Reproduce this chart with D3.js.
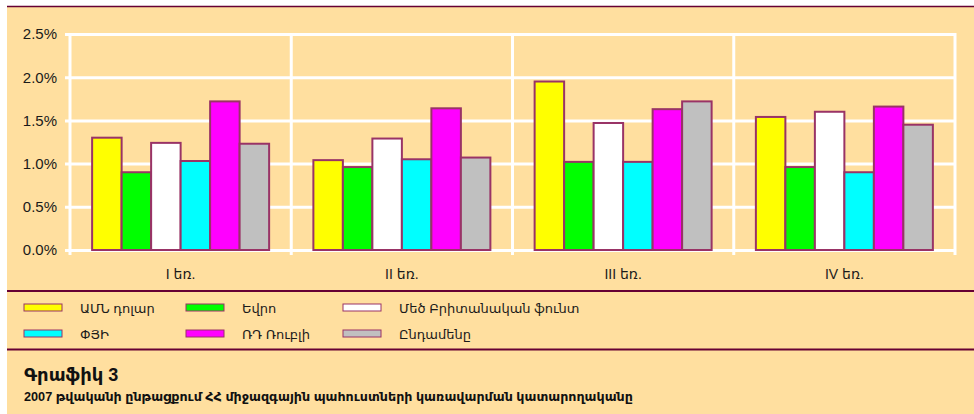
<!DOCTYPE html>
<html>
<head>
<meta charset="utf-8">
<script src="https://cdn.jsdelivr.net/npm/d3@7"></script>
<style>
	body { margin: 0; background: #ffffff; }
	svg { display: block; font-family: "Liberation Sans", Arial, "DejaVu Sans", sans-serif; }
</style>
</head>
<body>
<div id="chart"></div>
<script>
// Data
var quarters = ["I եռ.", "II եռ.", "III եռ.", "IV եռ."];
var seriesNames = ["ԱՄՆ դոլար", "Եվրո", "Մեծ Բրիտանական ֆունտ", "ՓՅԻ", "ՌԴ Ռուբլի", "Ընդամենը"];
var usd = [1.30, 1.04, 1.95, 1.54];
var eur = [0.90, 0.96, 1.02, 0.96];
var gbp = [1.24, 1.29, 1.47, 1.60];
var sdr = [1.03, 1.05, 1.02, 0.90];
var rub = [1.72, 1.64, 1.63, 1.66];
var total = [1.23, 1.07, 1.72, 1.45];
var yTicks = [0, 0.5, 1.0, 1.5, 2.0, 2.5];
var seriesValues = [usd, eur, gbp, sdr, rub, total];
var seriesColors = ["#ffff00", "#00ff00", "#ffffff", "#00ffff", "#ff00ff", "#c0c0c0"];

var width = 974, height = 414;
var bg = "#ffdf9f", dark = "#660033", barStroke = "#993366";

var svg = d3.select("#chart").append("svg")
	.attr("width", width)
	.attr("height", height);

// Panel background and separator lines
svg.append("rect")
	.attr("x", 7).attr("y", 6)
	.attr("width", width - 7).attr("height", height - 6)
	.style("fill", bg);

[6.5, 291, 349.5].forEach(function(y, i) {
	svg.append("line")
		.attr("x1", 7).attr("x2", width)
		.attr("y1", y).attr("y2", y)
		.style("stroke", dark)
		.style("stroke-width", i == 0 ? 1.5 : 2);
});

// Scales
var xScale = d3.scaleBand().domain(quarters).range([70, 955]).paddingInner(0).paddingOuter(0);
var xInner = d3.scaleBand().domain(d3.range(seriesNames.length))
	.range([xScale.bandwidth() * 0.1, xScale.bandwidth() * 0.9]);
var yScale = d3.scaleLinear().domain([0, 2.5]).range([250, 34]);

// Horizontal grid
var yAxis = d3.axisLeft(yScale)
	.tickValues(yTicks)
	.tickSize(-(955 - 65))
	.tickPadding(8)
	.tickFormat(function(d) { return d3.format(".1f")(d) + "%"; });

var gy = svg.append("g")
	.attr("transform", "translate(65,0)")
	.call(yAxis);
gy.select(".domain").remove();
gy.selectAll("line").style("stroke", "#ffffff").style("stroke-width", 3);
gy.selectAll("text")
	.attr("x", -8)
	.style("font-size", "15px")
	.style("fill", "#1a1a1a");

// Vertical grid
var vLines = quarters.map(function(q) { return xScale(q); }).concat([955]);
svg.selectAll(".vgrid")
	.data(vLines)
	.enter()
	.append("line")
	.attr("class", "vgrid")
	.attr("x1", function(d) { return d; })
	.attr("x2", function(d) { return d; })
	.attr("y1", 33)
	.attr("y2", 255)
	.style("stroke", "#ffffff")
	.style("stroke-width", 3);

// Bars
var groups = svg.selectAll(".quarter")
	.data(quarters)
	.enter()
	.append("g")
	.attr("class", "quarter")
	.attr("transform", function(q) { return "translate(" + xScale(q) + ",0)"; });

groups.selectAll("rect")
	.data(function(q, qi) {
		return seriesValues.map(function(vals, si) { return { s: si, v: vals[qi] }; });
	})
	.enter()
	.append("rect")
	.attr("x", function(d) { return xInner(d.s); })
	.attr("y", function(d) { return yScale(d.v); })
	.attr("width", xInner.bandwidth())
	.attr("height", function(d) { return yScale(0) - yScale(d.v); })
	.style("fill", function(d) { return seriesColors[d.s]; })
	.style("stroke", barStroke)
	.style("stroke-width", 2);

// Category labels
svg.selectAll(".qlabel")
	.data(quarters)
	.enter()
	.append("text")
	.attr("class", "qlabel")
	.attr("x", function(q) { return xScale(q) + xScale.bandwidth() / 2; })
	.attr("y", 279)
	.attr("text-anchor", "middle")
	.style("font-size", "14px")
	.style("fill", "#1a1a1a")
	.text(function(q) { return q; });

// Legend
var legendCols = [24, 186, 343];
var legendRows = [307.5, 333.5];
var legend = svg.selectAll(".legend-item")
	.data(seriesNames)
	.enter()
	.append("g")
	.attr("class", "legend-item")
	.attr("transform", function(d, i) {
		return "translate(" + legendCols[i % 3] + "," + legendRows[Math.floor(i / 3)] + ")";
	});
legend.append("rect")
	.attr("x", 0).attr("y", -3.5)
	.attr("width", 38).attr("height", 7)
	.style("fill", function(d, i) { return seriesColors[i]; })
	.style("stroke", barStroke)
	.style("stroke-width", 1);
legend.append("text")
	.attr("x", 56)
	.attr("y", 5)
	.style("font-size", "13px")
	.style("fill", "#1a1a1a")
	.text(function(d) { return d; });

// Caption
svg.append("text")
	.attr("x", 24).attr("y", 381)
	.style("font-size", "18px")
	.style("font-weight", "bold")
	.style("fill", "#111")
	.text("Գրաֆիկ 3");
svg.append("text")
	.attr("x", 24).attr("y", 401)
	.style("font-size", "12.7px")
	.style("font-weight", "bold")
	.style("fill", "#111")
	.text("2007 թվականի ընթացքում ՀՀ միջազգային պահուստների կառավարման կատարողականը");
</script>
</body>
</html>
